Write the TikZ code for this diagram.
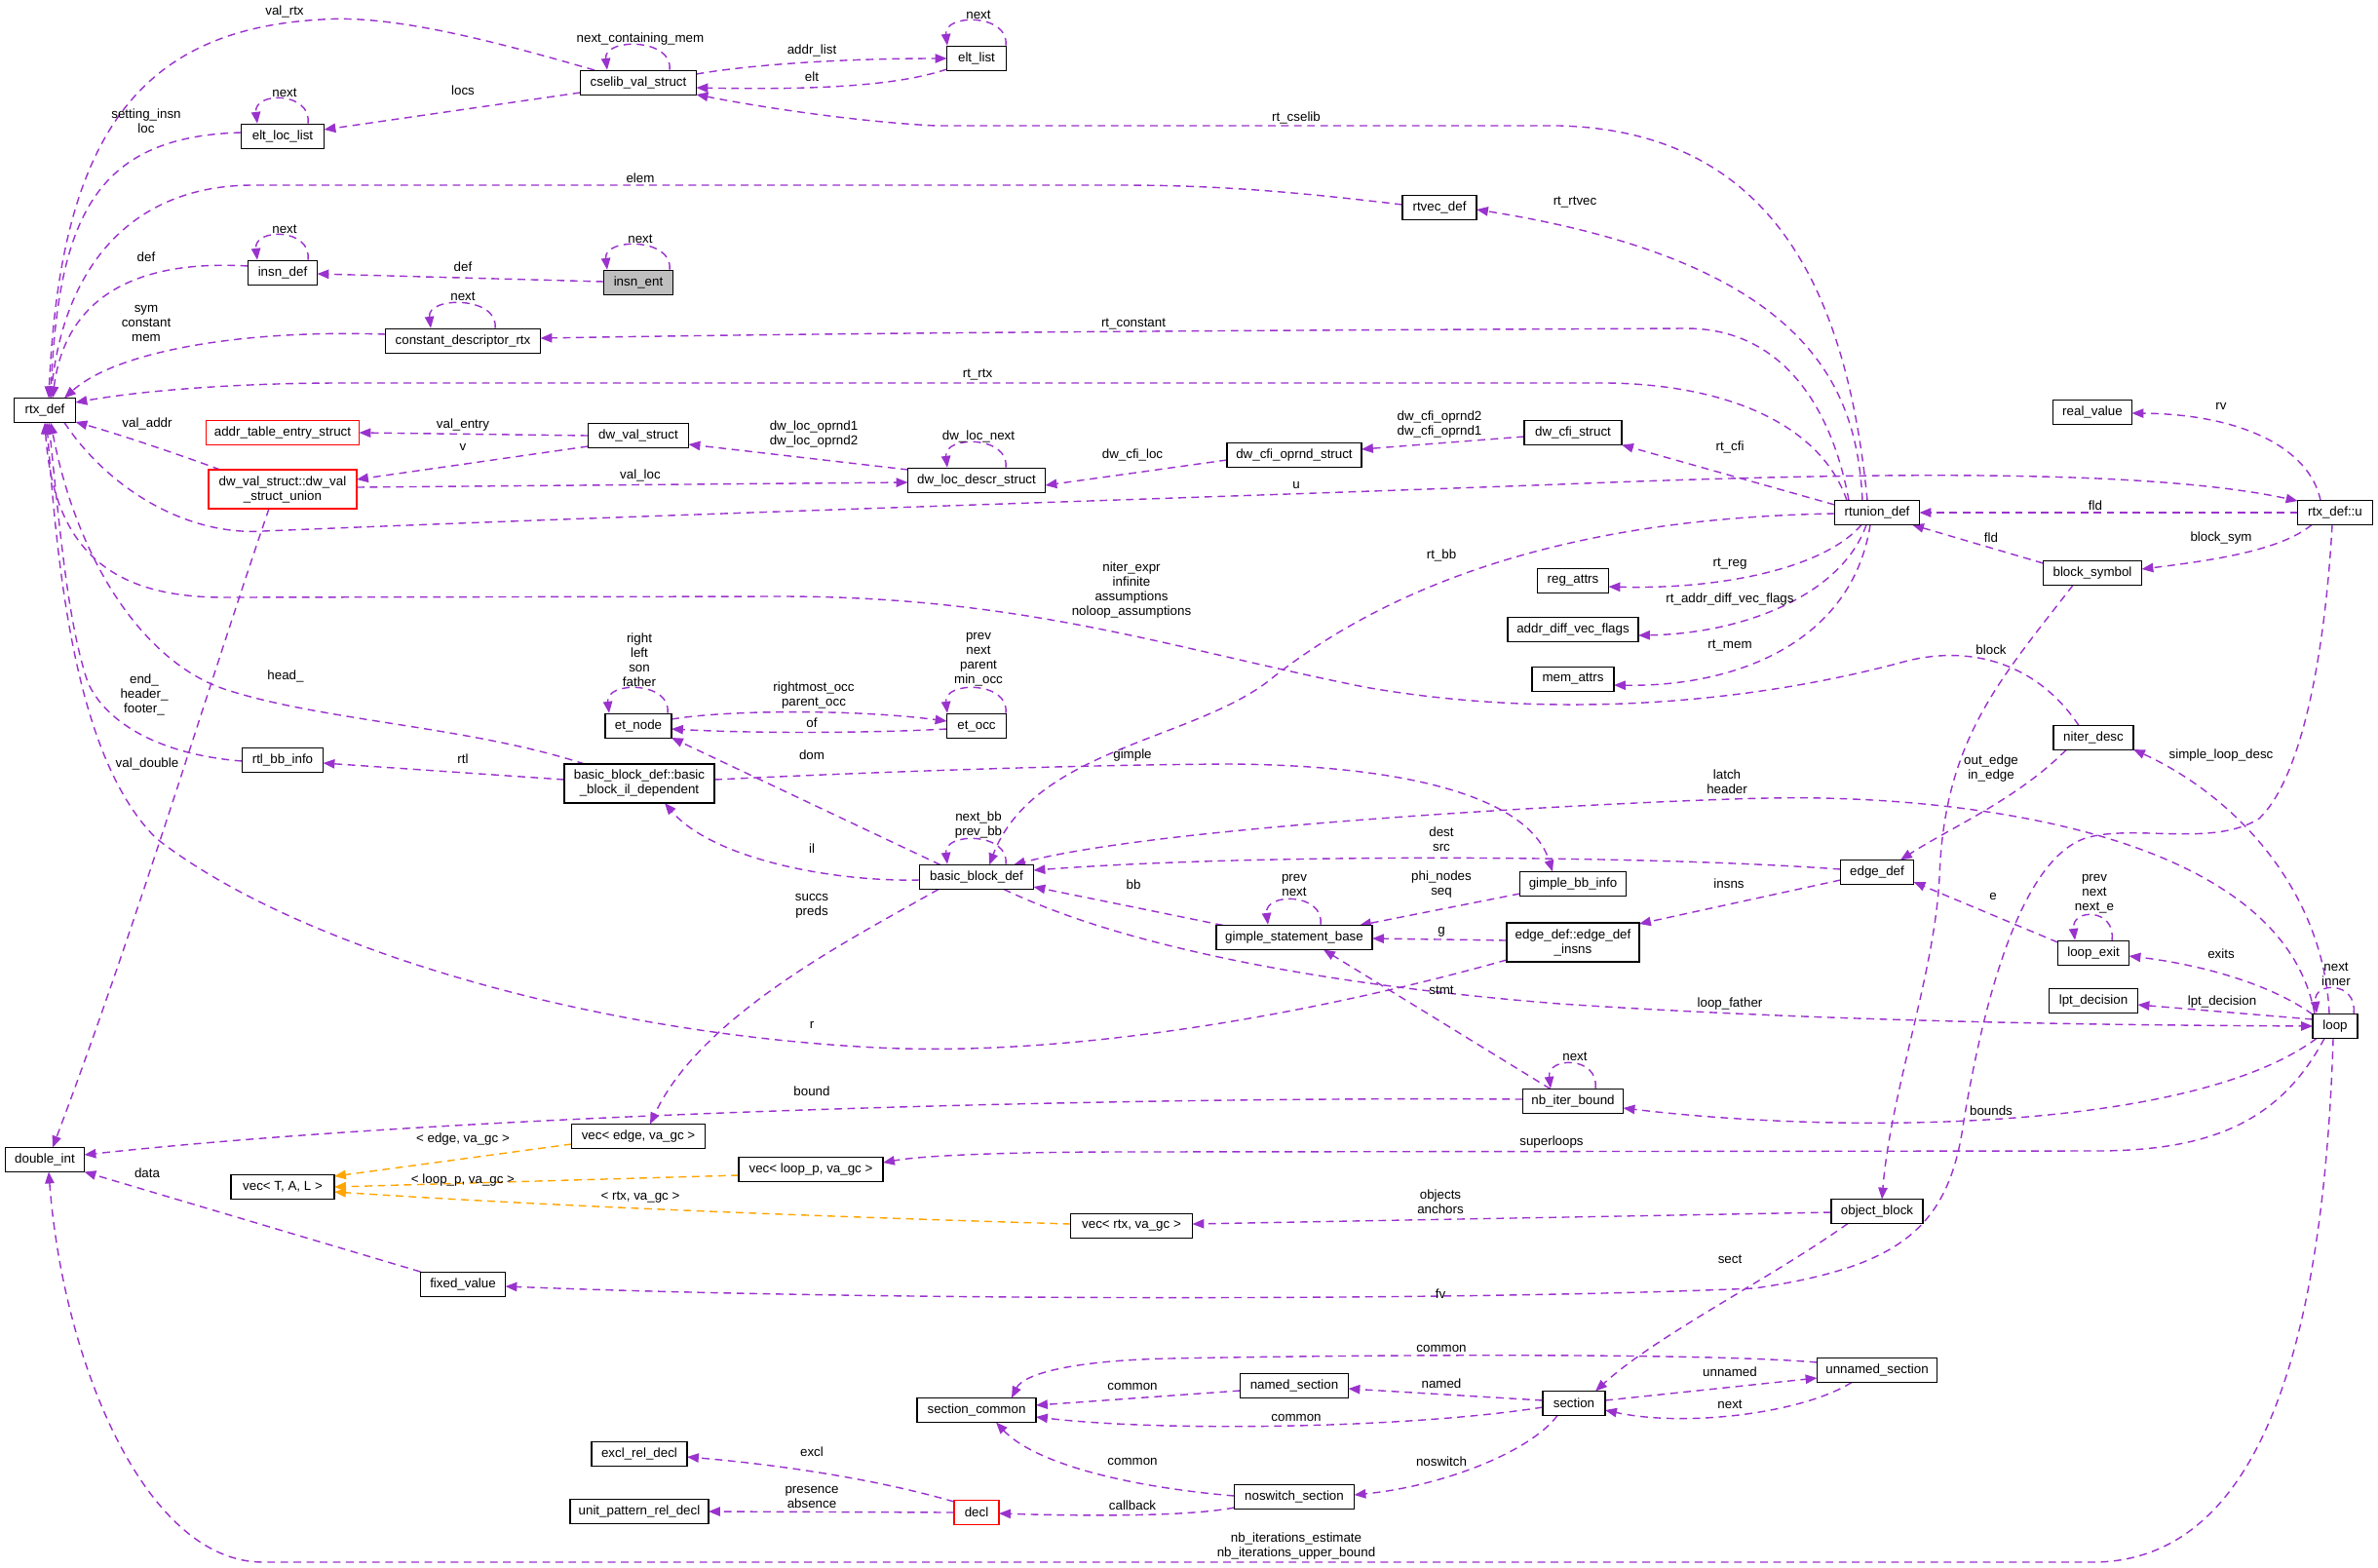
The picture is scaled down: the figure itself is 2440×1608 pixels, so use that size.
\documentclass[tikz,border=0pt]{standalone}
\usepackage{fontspec}
\setmainfont{Liberation Sans}
\usetikzlibrary{arrows.meta,calc}
\pgfdeclarelayer{bg}
\pgfsetlayers{bg,main}
\definecolor{purp}{RGB}{154,50,205}
\definecolor{orng}{RGB}{255,165,0}
\definecolor{gry}{RGB}{191,191,191}
\newcommand\selfloop[2]{\draw[conn] ($(#1.north)+(#2,0)$) .. controls ($(#1.north)+(#2+4,-33)$) and ($(#1.north)+(-#2-4,-33)$) .. ($(#1.north)+(-#2,0)$);}
\begin{document}
\begin{tikzpicture}[x=0.32pt,y=-0.32pt,
  every node/.style={font=\fontsize{4.27pt}{4.8pt}\selectfont},
  box/.style={draw=black,line width=0.5pt,inner sep=0pt,minimum height=8pt,fill=white,align=center},
  box2/.style={box,minimum height=12.8pt},
  bw/.style={minimum width=#1*0.32pt},
  redbox/.style={draw=red,line width=0.45pt},
  lbl/.style={inner sep=0pt,align=center},
  conn/.style={draw=purp,line width=0.45pt,dash pattern=on 2.5pt off 1.8pt,-{Triangle[length=3.8pt,width=3pt]}},
  tpl/.style={conn,draw=orng},
]
\useasboundingbox (0,0) rectangle (2440,1608);
% ---------- nodes ----------
\node[box,bw=63] (rtx) at (46,421) {rtx\_def};
\node[box,bw=81] (dbl) at (46,1190) {double\_int};
\node[box,bw=119] (cselib) at (655,85) {cselib\_val\_struct};
\node[box,bw=85] (eltloc) at (290,140) {elt\_loc\_list};
\node[box,bw=71] (insndef) at (290,280) {insn\_def};
\node[box,bw=71,fill=gry] (insnent) at (655,290) {insn\_ent};
\node[box,bw=159] (cdr) at (475,350) {constant\_descriptor\_rtx};
\node[box,redbox,bw=157] (ate) at (290,444) {addr\_table\_entry\_struct};
\node[box,bw=103] (dwval) at (655,447) {dw\_val\_struct};
\node[box2,redbox,bw=152] (dwu) at (290,502) {dw\_val\_struct::dw\_val\\\_struct\_union};
\node[box,bw=61] (eltlist) at (1002,60) {elt\_list};
\node[box,bw=76] (rtvec) at (1477,213) {rtvec\_def};
\node[box,bw=141] (dwloc) at (1002,493) {dw\_loc\_descr\_struct};
\node[box,bw=138] (dwcfio) at (1328,467) {dw\_cfi\_oprnd\_struct};
\node[box,bw=100] (dwcfi) at (1614,444) {dw\_cfi\_struct};
\node[box,bw=81] (realv) at (2147,423) {real\_value};
\node[box,bw=68] (etnode) at (655,745) {et\_node};
\node[box,bw=83] (rtlbb) at (290,780) {rtl\_bb\_info};
\node[box2,bw=154] (bbil) at (656,804) {basic\_block\_def::basic\\\_block\_il\_dependent};
\node[box,bw=61] (etocc) at (1002,745) {et\_occ};
\node[box,bw=117] (bb) at (1002,900) {basic\_block\_def};
\node[box,bw=160] (gsb) at (1328,962) {gimple\_statement\_base};
\node[box,bw=109] (gbb) at (1614,907) {gimple\_bb\_info};
\node[box2,bw=136] (edi) at (1614,967) {edge\_def::edge\_def\\\_insns};
\node[box,bw=73] (regattrs) at (1614,596) {reg\_attrs};
\node[box,bw=134] (adv) at (1614,646) {addr\_diff\_vec\_flags};
\node[box,bw=84] (memattrs) at (1614,697) {mem\_attrs};
\node[box,bw=87] (rtunion) at (1926,526) {rtunion\_def};
\node[box,bw=77] (rtxu) at (2396,526) {rtx\_def::u};
\node[box,bw=101] (blocksym) at (2147,588) {block\_symbol};
\node[box,bw=82] (niter) at (2148,757) {niter\_desc};
\node[box,bw=75] (edgedef) at (1926,895) {edge\_def};
\node[box,bw=73] (loopexit) at (2148,978) {loop\_exit};
\node[box,bw=91] (lpt) at (2148,1027) {lpt\_decision};
\node[box,bw=46] (loop) at (2396,1053) {loop};
\node[box,bw=106] (vecT) at (290,1218) {vec< T, A, L >};
\node[box,bw=137] (vecE) at (655,1166) {vec< edge, va\_gc >};
\node[box,bw=148] (vecL) at (832,1200) {vec< loop\_p, va\_gc >};
\node[box,bw=87] (fixed) at (475,1318) {fixed\_value};
\node[box,bw=98] (excl) at (656,1492) {excl\_rel\_decl};
\node[box,bw=142] (upr) at (656,1551) {unit\_pattern\_rel\_decl};
\node[box,bw=103] (nib) at (1614,1130) {nb\_iter\_bound};
\node[box,bw=125] (vecR) at (1161,1258) {vec< rtx, va\_gc >};
\node[box,bw=111] (named) at (1328,1422) {named\_section};
\node[box,bw=122] (seccom) at (1002,1447) {section\_common};
\node[box,bw=64] (section) at (1615,1440) {section};
\node[box,bw=123] (nosw) at (1328,1536) {noswitch\_section};
\node[box,redbox,bw=46] (decl) at (1002,1552) {decl};
\node[box,bw=94] (objblock) at (1926,1243) {object\_block};
\node[box,bw=123] (unnamed) at (1926,1406) {unnamed\_section};
% ---------- labels ----------
\node[lbl] (l1) at (292,12) {val\_rtx};
\node[lbl] (l2) at (657,40) {next\_containing\_mem};
\node[lbl] (l3) at (475,93) {locs};
\node[lbl] (l4) at (292,95) {next};
\node[lbl] (l5) at (150,124) {setting\_insn\\loc};
\node[lbl] (l6) at (833,52) {addr\_list};
\node[lbl] (l7) at (833,79) {elt};
\node[lbl] (l8) at (1004,15) {next};
\node[lbl] (l9) at (1330,121) {rt\_cselib};
\node[lbl] (l10) at (657,183) {elem};
\node[lbl] (l11) at (1616,208) {rt\_rtvec};
\node[lbl] (l12) at (292,235) {next};
\node[lbl] (l13) at (150,264) {def};
\node[lbl] (l14) at (657,245) {next};
\node[lbl] (l15) at (475,274) {def};
\node[lbl] (l16) at (475,304) {next};
\node[lbl] (l17) at (150,332) {sym\\constant\\mem};
\node[lbl] (l18) at (1163,333) {rt\_constant};
\node[lbl] (l19) at (1003,385) {rt\_rtx};
\node[lbl] (l20) at (2279,417) {rv};
\node[lbl] (l21) at (151,435) {val\_addr};
\node[lbl] (l22) at (475,436) {val\_entry};
\node[lbl] (l23) at (475,459) {v};
\node[lbl] (l24) at (835,446) {dw\_loc\_oprnd1\\dw\_loc\_oprnd2};
\node[lbl] (l25) at (1004,448) {dw\_loc\_next};
\node[lbl] (l26) at (1477,436) {dw\_cfi\_oprnd2\\dw\_cfi\_oprnd1};
\node[lbl] (l27) at (1162,467) {dw\_cfi\_loc};
\node[lbl] (l28) at (1775,459) {rt\_cfi};
\node[lbl] (l29) at (657,488) {val\_loc};
\node[lbl] (l30) at (1330,498) {u};
\node[lbl] (l31) at (2150,519) {fld};
\node[lbl] (l32) at (2043,552) {fld};
\node[lbl] (l33) at (2279,552) {block\_sym};
\node[lbl] (l34) at (1479,570) {rt\_bb};
\node[lbl] (l35) at (1775,579) {rt\_reg};
\node[lbl] (l36) at (1775,615) {rt\_addr\_diff\_vec\_flags};
\node[lbl] (l37) at (1161,606) {niter\_expr\\infinite\\assumptions\\noloop\_assumptions};
\node[lbl] (l38) at (1775,662) {rt\_mem};
\node[lbl] (l39) at (2043,667) {block};
\node[lbl] (l40) at (656,677) {right\\left\\son\\father};
\node[lbl] (l41) at (1004,677) {prev\\next\\parent\\min\_occ};
\node[lbl] (l42) at (293,694) {head\_};
\node[lbl] (l43) at (148,713) {end\_\\header\_\\footer\_};
\node[lbl] (l44) at (835,714) {rightmost\_occ\\parent\_occ};
\node[lbl] (l45) at (833,742) {of};
\node[lbl] (l46) at (1162,775) {gimple};
\node[lbl] (l47) at (833,775) {dom};
\node[lbl] (l48) at (2279,775) {simple\_loop\_desc};
\node[lbl] (l49) at (2043,789) {out\_edge\\in\_edge};
\node[lbl] (l50) at (151,784) {val\_double};
\node[lbl] (l51) at (475,779) {rtl};
\node[lbl] (l52) at (1772,802) {latch\\header};
\node[lbl] (l53) at (1004,847) {next\_bb\\prev\_bb};
\node[lbl] (l54) at (1479,861) {dest\\src};
\node[lbl] (l55) at (833,871) {il};
\node[lbl] (l56) at (1479,908) {phi\_nodes\\seq};
\node[lbl] (l57) at (1328,908) {prev\\next};
\node[lbl] (l58) at (2149,917) {prev\\next\\next\_e};
\node[lbl] (l59) at (1163,908) {bb};
\node[lbl] (l60) at (1774,907) {insns};
\node[lbl] (l61) at (2045,920) {e};
\node[lbl] (l62) at (833,930) {succs\\preds};
\node[lbl] (l63) at (1479,956) {g};
\node[lbl] (l64) at (2279,979) {exits};
\node[lbl] (l65) at (2397,1000) {next\\inner};
\node[lbl] (l66) at (1479,1016) {stmt};
\node[lbl] (l67) at (2280,1028) {lpt\_decision};
\node[lbl] (l68) at (1775,1030) {loop\_father};
\node[lbl] (l69) at (833,1052) {r};
\node[lbl] (l70) at (1616,1084) {next};
\node[lbl] (l71) at (833,1120) {bound};
\node[lbl] (l72) at (2043,1140) {bounds};
\node[lbl] (l73) at (475,1169) {< edge, va\_gc >};
\node[lbl] (l74) at (1592,1172) {superloops};
\node[lbl] (l75) at (151,1204) {data};
\node[lbl] (l76) at (475,1211) {< loop\_p, va\_gc >};
\node[lbl] (l77) at (1478,1233) {objects\\anchors};
\node[lbl] (l78) at (657,1229) {< rtx, va\_gc >};
\node[lbl] (l79) at (1775,1292) {sect};
\node[lbl] (l80) at (1478,1328) {fv};
\node[lbl] (l81) at (1479,1384) {common};
\node[lbl] (l82) at (1775,1408) {unnamed};
\node[lbl] (l83) at (1479,1420) {named};
\node[lbl] (l84) at (1162,1423) {common};
\node[lbl] (l85) at (1775,1441) {next};
\node[lbl] (l86) at (1330,1455) {common};
\node[lbl] (l87) at (833,1490) {excl};
\node[lbl] (l88) at (1162,1500) {common};
\node[lbl] (l89) at (1479,1500) {noswitch};
\node[lbl] (l90) at (833,1536) {presence\\absence};
\node[lbl] (l91) at (1162,1545) {callback};
\node[lbl] (l92) at (1330,1587) {nb\_iterations\_estimate\\nb\_iterations\_upper\_bound};
% ---------- connectors ----------
\begin{pgfonlayer}{bg}
\fill[white] (0,0) rectangle (2440,1608);
\draw[conn] ($(cselib)+(-45,-13)$) .. controls (500,40) and (400,15) .. (330,20) .. controls (150,30) and (62,130) .. ($(rtx)+(4,-12.5)$);
\draw[conn] ($(cselib)+(-59.5,10)$) -- ($(eltloc)+(42.5,-7)$);
\draw[conn] ($(eltloc)+(-42.5,-4)$) .. controls (100,140) and (60,220) .. ($(rtx)+(6,-12.5)$);
\draw[conn] ($(rtvec)+(-38,-3)$) .. controls (1330,197) and (1250,190) .. (1150,190) -- (260,190) .. controls (130,190) and (65,280) .. ($(rtx)+(6,-12.5)$);
\draw[conn] ($(insndef)+(-35.5,-7)$) .. controls (120,265) and (65,320) .. ($(rtx)+(8,-12.5)$);
\draw[conn] ($(insnent)+(-35.5,-1)$) -- ($(insndef)+(35.5,1)$);
\draw[conn] ($(cdr)+(-79.5,-7)$) .. controls (250,338) and (120,360) .. ($(rtx)+(20,-12.5)$);
\draw[conn] ($(rtunion)+(-29,-12.5)$) .. controls (1880,420) and (1830,337) .. (1730,337) .. controls (1300,339) and (900,341) .. ($(cdr)+(79.5,-3)$);
\draw[conn] ($(rtunion)+(-31,-12.5)$) .. controls (1870,440) and (1780,395) .. (1650,393) -- (350,393) .. controls (250,393) and (150,400) .. ($(rtx)+(31.5,-8)$);
\draw[conn] ($(rtunion)+(-10,-12.5)$) .. controls (1895,300) and (1820,135) .. (1600,129) -- (960,129) .. controls (880,125) and (780,110) .. ($(cselib)+(59.5,12)$);
\draw[conn] ($(rtunion)+(-15,-12.5)$) .. controls (1905,400) and (1860,270) .. ($(rtvec)+(38,2)$);
\draw[conn] ($(cselib)+(59.5,-9)$) .. controls (760,68) and (850,60) .. ($(eltlist)+(-30.5,0)$);
\draw[conn] ($(eltlist)+(-30.5,11)$) .. controls (930,85) and (860,93) .. ($(cselib)+(59.5,5)$);
\draw[conn] ($(dwu)+(-64,-20)$) .. controls (180,465) and (120,445) .. ($(rtx)+(31.5,12)$);
\draw[conn] ($(dwval)+(-51.5,0)$) -- ($(ate)+(78.5,0)$);
\draw[conn] ($(dwval)+(-51.5,11)$) -- ($(dwu)+(76,-10)$);
\draw[conn] ($(dwloc)+(-70,-11)$) -- ($(dwval)+(51.5,9)$);
\draw[conn] ($(dwu)+(76,-2)$) -- ($(dwloc)+(-70.5,2)$);
\draw[conn] ($(dwcfio)+(-69,5)$) -- ($(dwloc)+(70.5,5)$);
\draw[conn] ($(dwcfi)+(-50,4)$) -- ($(dwcfio)+(69,-6)$);
\draw[conn] ($(rtunion)+(-43.5,-8)$) -- ($(dwcfi)+(50,12.5)$);
\draw[conn] ($(rtxu)+(-38.5,0)$) -- ($(rtunion)+(43.5,0)$);
\draw[conn] ($(rtx)+(20,12.5)$) .. controls (110,500) and (190,550) .. (270,545) .. controls (700,527) and (1200,512) .. (1600,497) .. controls (1900,485) and (2200,480) .. ($(rtxu)+(-38.5,-12)$);
\draw[conn] ($(rtxu)+(-24,12.5)$) .. controls (2340,565) and (2270,575) .. ($(blocksym)+(50.5,-4)$);
\draw[conn] ($(blocksym)+(-50.5,-10)$) -- ($(rtunion)+(36,12.5)$);
\draw[conn] ($(rtxu)+(-15,-12.5)$) .. controls (2370,460) and (2300,425) .. ($(realv)+(40.5,1)$);
\draw[conn] ($(rtunion)+(-16,12.5)$) .. controls (1870,585) and (1760,605) .. ($(regattrs)+(36.5,6)$);
\draw[conn] ($(rtunion)+(-11,12.5)$) .. controls (1890,610) and (1790,650) .. ($(adv)+(67,6)$);
\draw[conn] ($(rtunion)+(-7,12.5)$) .. controls (1900,660) and (1780,705) .. ($(memattrs)+(42,6)$);
\draw[conn] ($(rtunion)+(-43.5,1)$) .. controls (1720,530) and (1480,555) .. (1300,700) .. controls (1220,760) and (1060,770) .. ($(bb)+(13,-12.5)$);
\draw[conn] ($(niter)+(-15,-12.5)$) .. controls (2090,680) and (2020,660) .. (1950,680) .. controls (1800,720) and (1600,740) .. (1400,705) .. controls (1200,665) and (1050,612) .. (800,612) -- (230,613) .. controls (120,613) and (55,570) .. ($(rtx)+(0,12.5)$);
\draw[conn] ($(blocksym)+(-20,12.5)$) .. controls (2050,700) and (1995,760) .. (1990,900) .. controls (1985,1000) and (1940,1120) .. ($(objblock)+(5,-12.5)$);
\draw[conn] ($(niter)+(-28,12.5)$) .. controls (2070,820) and (2000,850) .. ($(edgedef)+(24,-12.5)$);
\draw[conn] ($(loop)+(-6,-12.5)$) .. controls (2385,920) and (2300,820) .. ($(niter)+(41,12)$);
\draw[conn] ($(loop)+(-21,-12.5)$) .. controls (2340,850) and (2000,815) .. (1814,819) .. controls (1700,821) and (1200,845) .. ($(bb)+(38,-12.5)$);
\draw[conn] ($(edgedef)+(-37.5,-3)$) .. controls (1700,878) and (1300,875) .. ($(bb)+(58.5,-7)$);
\draw[conn] ($(edi)+(-68,-2)$) -- ($(gsb)+(80,1)$);
\draw[conn] ($(edgedef)+(-37.5,8)$) -- ($(edi)+(68,-19)$);
\draw[conn] ($(gbb)+(-54.5,10)$) -- ($(gsb)+(67,-12.5)$);
\draw[conn] ($(gsb)+(-73,-12.5)$) -- ($(bb)+(58.5,10)$);
\draw[conn] ($(bbil)+(77,-4)$) .. controls (900,792) and (1100,785) .. (1259,784) .. controls (1450,785) and (1570,820) .. ($(gbb)+(-21,-12.5)$);
\draw[conn] ($(bb)+(-58.5,3)$) .. controls (850,905) and (730,880) .. ($(bbil)+(26,20)$);
\draw[conn] ($(bb)+(-37,-12.5)$) -- ($(etnode)+(34,12)$);
\draw[conn] ($(bbil)+(-77,-4)$) -- ($(rtlbb)+(41.5,3)$);
\draw[conn] ($(rtlbb)+(-41.5,1)$) .. controls (170,775) and (110,745) .. (90,700) .. controls (70,640) and (62,550) .. ($(rtx)+(4,12.5)$);
\draw[conn] ($(bbil)+(-56,-20)$) .. controls (480,745) and (330,740) .. (230,707) .. controls (150,680) and (80,580) .. ($(rtx)+(6,12.5)$);
\draw[conn] ($(etnode)+(34,-7)$) .. controls (750,728) and (880,728) .. ($(etocc)+(-30.5,-5)$);
\draw[conn] ($(etocc)+(-30.5,3)$) .. controls (900,752) and (780,753) .. ($(etnode)+(34,3)$);
\draw[conn] ($(edi)+(-68,18)$) .. controls (1350,1040) and (1100,1085) .. (900,1075) .. controls (600,1060) and (300,970) .. (160,860) .. controls (80,780) and (60,600) .. ($(rtx)+(2,12.5)$);
\draw[conn] ($(bb)+(-39,12.5)$) .. controls (880,960) and (720,1040) .. ($(vecE)+(12,-12.5)$);
\draw[conn] ($(nib)+(-51.5,-2)$) .. controls (1200,1125) and (500,1140) .. ($(dbl)+(40.5,-5)$);
\draw[conn] ($(nib)+(-23,-12.5)$) -- ($(gsb)+(30,12.5)$);
\draw[conn] ($(loop)+(-19,12.5)$) .. controls (2250,1160) and (1900,1165) .. ($(nib)+(51.5,7)$);
\draw[conn] ($(loop)+(-11,12.5)$) .. controls (2340,1150) and (2270,1181) .. (2150,1181) -- (1150,1182) .. controls (1050,1182) and (950,1185) .. ($(vecL)+(74,-7)$);
\draw[conn] ($(bb)+(28,12.5)$) .. controls (1150,970) and (1350,1010) .. (1600,1030) .. controls (1900,1050) and (2200,1052) .. ($(loop)+(-23,0)$);
\draw[conn] ($(loop)+(-23,-7)$) -- ($(lpt)+(45.5,4)$);
\draw[conn] ($(loop)+(-23,-12)$) .. controls (2330,1010) and (2260,990) .. ($(loopexit)+(36.5,3)$);
\draw[conn] ($(loopexit)+(-36.5,-11)$) -- ($(edgedef)+(37.5,10)$);
\draw[conn] ($(rtxu)+(-3,12.5)$) .. controls (2385,680) and (2360,800) .. (2318,840) .. controls (2270,870) and (2190,845) .. (2140,860) .. controls (2080,880) and (2040,1000) .. (2015,1150) .. controls (2000,1260) and (1950,1300) .. (1800,1322) .. controls (1500,1335) and (900,1335) .. ($(fixed)+(43.5,2)$);
\draw[conn] ($(fixed)+(-43.5,-13)$) -- ($(dbl)+(40.5,12.5)$);
\draw[tpl] ($(vecE)+(-68.5,8)$) -- ($(vecT)+(53,-11)$);
\draw[tpl] ($(vecL)+(-74,6)$) -- ($(vecT)+(53,0)$);
\draw[tpl] ($(vecR)+(-62.5,-2)$) .. controls (900,1250) and (600,1240) .. ($(vecT)+(53,5)$);
\draw[conn] ($(objblock)+(-47,1)$) -- ($(vecR)+(62.5,-2)$);
\draw[conn] ($(objblock)+(-30,12.5)$) .. controls (1820,1310) and (1700,1370) .. ($(section)+(22,-12.5)$);
\draw[conn] ($(section)+(32,-3)$) -- ($(unnamed)+(-61.5,8)$);
\draw[conn] ($(unnamed)+(-26,12.5)$) .. controls (1850,1450) and (1730,1465) .. ($(section)+(32,7)$);
\draw[conn] ($(unnamed)+(-61.5,-8)$) .. controls (1750,1388) and (1400,1390) .. (1200,1394) .. controls (1100,1396) and (1050,1410) .. ($(seccom)+(36,-12.5)$);
\draw[conn] ($(section)+(-32,-3)$) -- ($(named)+(55.5,3)$);
\draw[conn] ($(named)+(-55.5,5)$) -- ($(seccom)+(61,-5)$);
\draw[conn] ($(section)+(-32,4)$) .. controls (1450,1465) and (1200,1470) .. ($(seccom)+(61,7)$);
\draw[conn] ($(section)+(-17,12.5)$) .. controls (1570,1490) and (1480,1525) .. ($(nosw)+(61.5,-2)$);
\draw[conn] ($(nosw)+(-61.5,-1)$) .. controls (1150,1525) and (1060,1500) .. ($(seccom)+(20,12.5)$);
\draw[conn] ($(nosw)+(-61.5,11)$) .. controls (1220,1556) and (1120,1556) .. ($(decl)+(23,1)$);
\draw[conn] ($(decl)+(-23,-11)$) .. controls (900,1518) and (800,1503) .. ($(excl)+(49,3)$);
\draw[conn] ($(decl)+(-23,0)$) -- ($(upr)+(71,0)$);
\draw[conn] ($(loop)+(-2,12.5)$) .. controls (2385,1350) and (2330,1600) .. (2150,1603) -- (270,1603) .. controls (150,1603) and (65,1400) .. ($(dbl)+(4,12.5)$);
\draw[conn] ($(dwu)+(-14,20)$) .. controls (215,700) and (140,950) .. ($(dbl)+(8,-12.5)$);
% self loops
\selfloop{cselib}{32}
\selfloop{eltloc}{26}
\selfloop{insndef}{26}
\selfloop{insnent}{32}
\selfloop{cdr}{33}
\selfloop{eltlist}{30}
\selfloop{dwloc}{30}
\selfloop{etnode}{30}
\selfloop{etocc}{30}
\selfloop{bb}{30}
\selfloop{gsb}{27}
\selfloop{loopexit}{19}
\selfloop{nib}{23}
\selfloop{loop}{19}
\end{pgfonlayer}
\end{tikzpicture}
\end{document}
